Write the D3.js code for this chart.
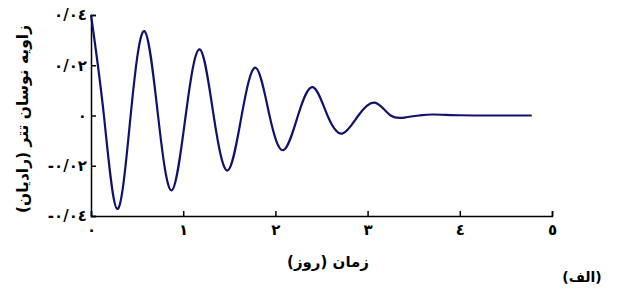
<!DOCTYPE html>
<html>
<head>
<meta charset="utf-8">
<script src="https://cdn.jsdelivr.net/npm/d3@7"></script>
<style>
  body { margin: 0; background: #fff; }
  text { font-family: "DejaVu Sans", sans-serif; font-weight: bold; }
</style>
</head>
<body>
<div id="chart"></div>
<script>
// data (time in days, angle in radians)
var times = [0, 0.14, 0.285, 0.43, 0.578, 0.727, 0.875, 1.027, 1.179, 1.33, 1.482,
  1.634, 1.786, 1.936, 2.086, 2.245, 2.405, 2.565, 2.726, 2.9, 3.08, 3.25, 3.42,
  3.56, 3.71, 4.0, 4.4, 4.78];
var angles = [0.04, 0, -0.0372, 0, 0.0336, 0, -0.0298, 0, 0.0263, 0, -0.0219,
  0, 0.019, 0, -0.0138, 0, 0.0113, 0, -0.0072, 0, 0.0051, 0, -0.0007,
  0, 0.0004, 0.0001, 0, 0];

var xTicks = [0, 1, 2, 3, 4, 5];
var xTickLabels = ["٠", "١", "٢", "٣", "٤", "٥"];
var yTicks = [-0.04, -0.02, 0, 0.02, 0.04];
var yTickLabels = ["-٠/٠٤", "-٠/٠٢", "٠", "٠/٠٢", "٠/٠٤"];

var xTitle = "زمان (روز)";
var yTitle = "زاویه نوسان تتر (رادیان)";
var panelLabel = "(الف)";

var svgWidth = 618;
var svgHeight = 289;

var svg = d3.select("#chart")
  .append("svg")
  .attr("width", svgWidth)
  .attr("height", svgHeight);

var x = d3.scaleLinear().domain([0, 5]).range([91, 552]);
var y = d3.scaleLinear().domain([-0.04, 0.04]).range([216, 15]);

var xAxis = d3.axisBottom(x)
  .tickValues(xTicks)
  .tickSize(-5)
  .tickPadding(8)
  .tickFormat(function(d, i) { return xTickLabels[i]; });

var yAxis = d3.axisLeft(y)
  .tickValues(yTicks)
  .tickSize(-5)
  .tickPadding(4)
  .tickFormat(function(d, i) { return yTickLabels[i]; });

var gx = svg.append("g")
  .attr("transform", "translate(0,216)")
  .call(xAxis);

var gy = svg.append("g")
  .attr("transform", "translate(91,0)")
  .call(yAxis);

[gx, gy].forEach(function(g) {
  g.selectAll("path, line").attr("stroke", "#000").attr("stroke-width", 1.5);
  g.selectAll("text").attr("fill", "#000").attr("font-size", 15)
    .style("font-family", "DejaVu Sans").style("font-weight", "bold");
});

var pts = times.map(function(t, i) { return [t, angles[i]]; });

var line = d3.line()
  .x(function(d) { return x(d[0]); })
  .y(function(d) { return y(d[1]); })
  .curve(d3.curveNatural);

svg.append("path")
  .datum(pts)
  .attr("d", line)
  .attr("fill", "none")
  .attr("stroke", "#12126b")
  .attr("stroke-width", 2.2);

svg.append("text")
  .attr("x", 328)
  .attr("y", 267)
  .attr("text-anchor", "middle")
  .attr("font-size", 15)
  .text(xTitle);

svg.append("text")
  .attr("transform", "translate(28,119) rotate(-90)")
  .attr("text-anchor", "middle")
  .attr("font-size", 15.5)
  .text(yTitle);

svg.append("text")
  .attr("x", 582)
  .attr("y", 282)
  .attr("text-anchor", "middle")
  .attr("font-size", 14)
  .text(panelLabel);
</script>
</body>
</html>
